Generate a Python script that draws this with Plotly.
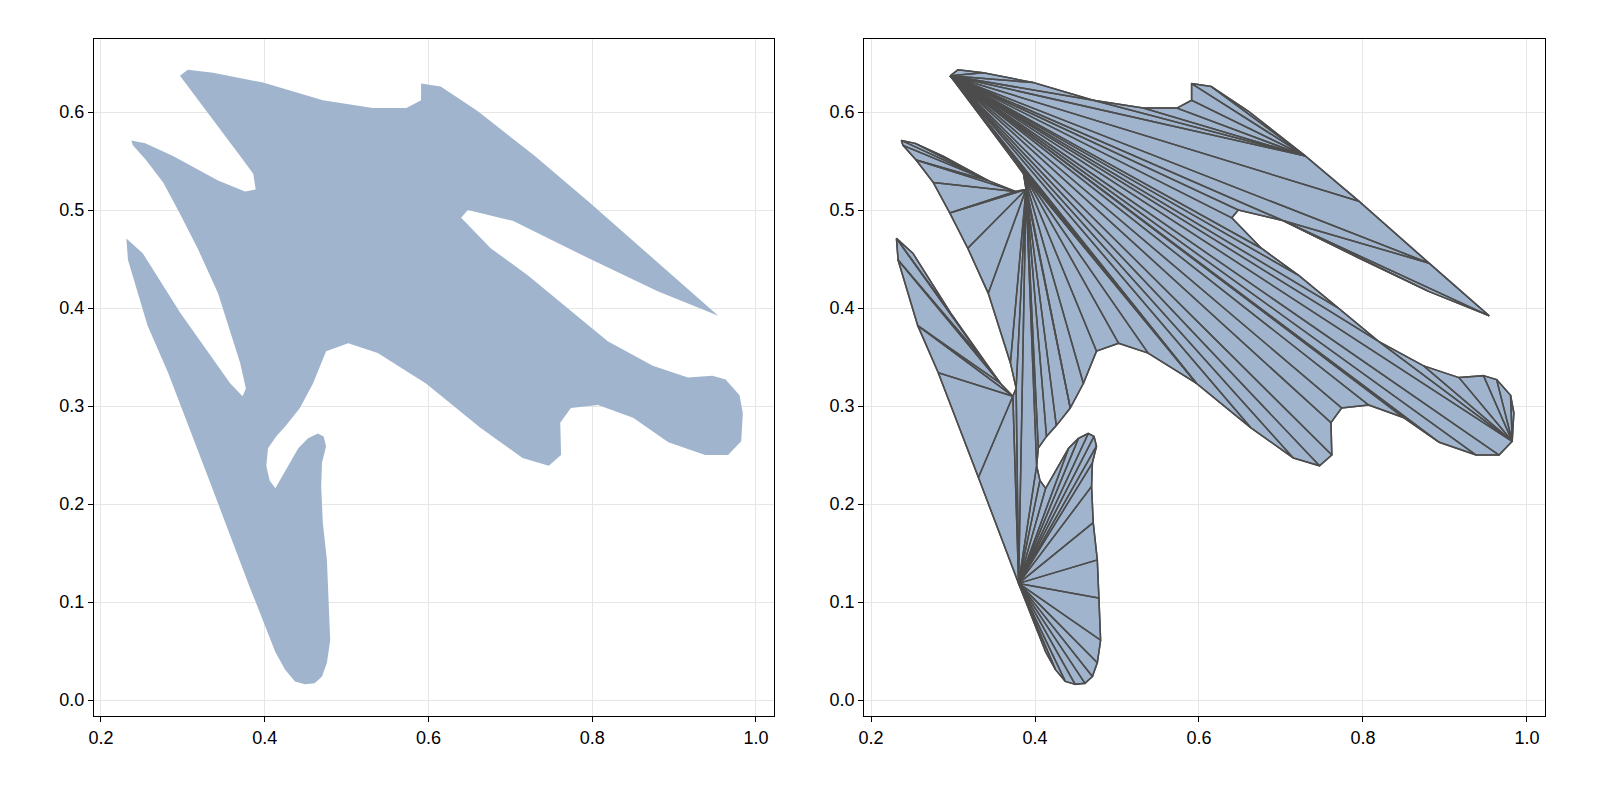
import plotly.graph_objects as go
from plotly.subplots import make_subplots

# polygon outline
xs = [0.2965, 0.306, 0.337, 0.398, 0.471, 0.532, 0.573, 0.591, 0.591, 0.615, 0.660, 0.730, 0.795, 0.880, 0.954,
      0.880, 0.795, 0.703, 0.648, 0.640, 0.676, 0.722, 0.770, 0.819, 0.874, 0.917, 0.947, 0.963, 0.980, 0.984,
      0.982, 0.966, 0.938, 0.893, 0.850, 0.807, 0.774, 0.761, 0.762, 0.747, 0.715, 0.663, 0.597, 0.538, 0.502,
      0.475, 0.459, 0.443, 0.426, 0.414, 0.404, 0.402, 0.406, 0.413, 0.441, 0.453, 0.465, 0.472, 0.475, 0.470,
      0.469, 0.471, 0.476, 0.478, 0.480, 0.476, 0.470, 0.461, 0.449, 0.437, 0.425, 0.413, 0.380, 0.331, 0.282,
      0.257, 0.233, 0.231, 0.251, 0.297, 0.337, 0.358, 0.373, 0.377, 0.370, 0.343, 0.318, 0.296, 0.276, 0.255,
      0.239, 0.237, 0.254, 0.288, 0.343, 0.376, 0.389, 0.386, 0.370, 0.337]
ys = [0.637, 0.643, 0.640, 0.630, 0.612, 0.604, 0.604, 0.612, 0.629, 0.626, 0.601, 0.555, 0.509, 0.446, 0.392,
      0.417, 0.451, 0.489, 0.500, 0.492, 0.461, 0.433, 0.400, 0.366, 0.341, 0.329, 0.331, 0.327, 0.311, 0.293,
      0.264, 0.250, 0.250, 0.263, 0.288, 0.301, 0.298, 0.283, 0.250, 0.239, 0.247, 0.278, 0.323, 0.354, 0.364,
      0.356, 0.323, 0.298, 0.280, 0.269, 0.257, 0.239, 0.224, 0.216, 0.257, 0.267, 0.272, 0.269, 0.259, 0.242,
      0.218, 0.181, 0.143, 0.104, 0.061, 0.038, 0.024, 0.017, 0.016, 0.019, 0.031, 0.049, 0.119, 0.227, 0.334,
      0.382, 0.449, 0.471, 0.456, 0.395, 0.347, 0.323, 0.310, 0.318, 0.344, 0.415, 0.461, 0.497, 0.528, 0.551,
      0.566, 0.571, 0.568, 0.555, 0.530, 0.519, 0.521, 0.537, 0.555, 0.592]

FILL = "#a0b5cd"
EDGE = "#4d4d4d"


def cross(o, a, b):
    return (a[0] - o[0]) * (b[1] - o[1]) - (a[1] - o[1]) * (b[0] - o[0])


def inside(p, a, b, c):
    d1, d2, d3 = cross(a, b, p), cross(b, c, p), cross(c, a, p)
    return d1 >= 0 and d2 >= 0 and d3 >= 0


def ear_clip(px, py):
    pts = list(zip(px, py))
    area = sum(pts[i][0] * pts[i - 1][1] - pts[i - 1][0] * pts[i][1] for i in range(len(pts)))
    idx = list(range(len(pts)))
    if area > 0:  # make counter-clockwise
        idx.reverse()
    tris = []
    guard = 0
    while len(idx) > 3 and guard < 10000:
        guard += 1
        n = len(idx)
        for k in range(n):
            i0, i1, i2 = idx[k - 1], idx[k], idx[(k + 1) % n]
            a, b, c = pts[i0], pts[i1], pts[i2]
            if cross(a, b, c) <= 0:
                continue
            if any(inside(pts[j], a, b, c) for j in idx if j not in (i0, i1, i2)):
                continue
            tris.append((i0, i1, i2))
            idx.pop(k)
            break
        else:
            break
    if len(idx) == 3:
        tris.append(tuple(idx))
    return tris


tris = ear_clip(xs, ys)
ex, ey = [], []
for t in tris:
    for i in list(t) + [t[0]]:
        ex.append(xs[i])
        ey.append(ys[i])
    ex.append(None)
    ey.append(None)

fig = make_subplots(rows=1, cols=2, horizontal_spacing=0.062)
fig.add_trace(go.Scatter(x=xs + [xs[0]], y=ys + [ys[0]], fill="toself", fillcolor=FILL,
                         mode="lines", line=dict(width=0), hoverinfo="skip"), 1, 1)
fig.add_trace(go.Scatter(x=xs + [xs[0]], y=ys + [ys[0]], fill="toself", fillcolor=FILL,
                         mode="lines", line=dict(width=0), hoverinfo="skip"), 1, 2)
fig.add_trace(go.Scatter(x=ex, y=ey, mode="lines", line=dict(color=EDGE, width=1.5),
                         hoverinfo="skip"), 1, 2)
fig.add_trace(go.Scatter(x=xs + [xs[0]], y=ys + [ys[0]], mode="lines",
                         line=dict(color=EDGE, width=1.5), hoverinfo="skip"), 1, 2)

axis = dict(showline=True, linecolor="black", linewidth=1, mirror=True, ticks="outside",
            ticklen=5, tickcolor="black", showgrid=True, gridcolor="#e6e6e6", zeroline=False,
            tickfont=dict(size=18, color="black"), automargin=False)
fig.update_xaxes(range=[0.1915, 1.022], tickvals=[0.2, 0.4, 0.6, 0.8, 1.0],
                 ticktext=["0.2", "0.4", "0.6", "0.8", "1.0"], **axis)
fig.update_yaxes(range=[-0.0163, 0.6745], tickvals=[0, 0.1, 0.2, 0.3, 0.4, 0.5, 0.6],
                 ticktext=["0.0", "0.1", "0.2", "0.3", "0.4", "0.5", "0.6"], **axis)
fig.update_layout(width=1600, height=800, showlegend=False, plot_bgcolor="white",
                  paper_bgcolor="white", font=dict(family="Liberation Sans"),
                  margin=dict(l=86, r=63, t=31, b=92))
fig.layout.xaxis.domain = [0, 0.4686]
fig.layout.xaxis2.domain = [0.5307, 1]
fig.write_html("out.html")
